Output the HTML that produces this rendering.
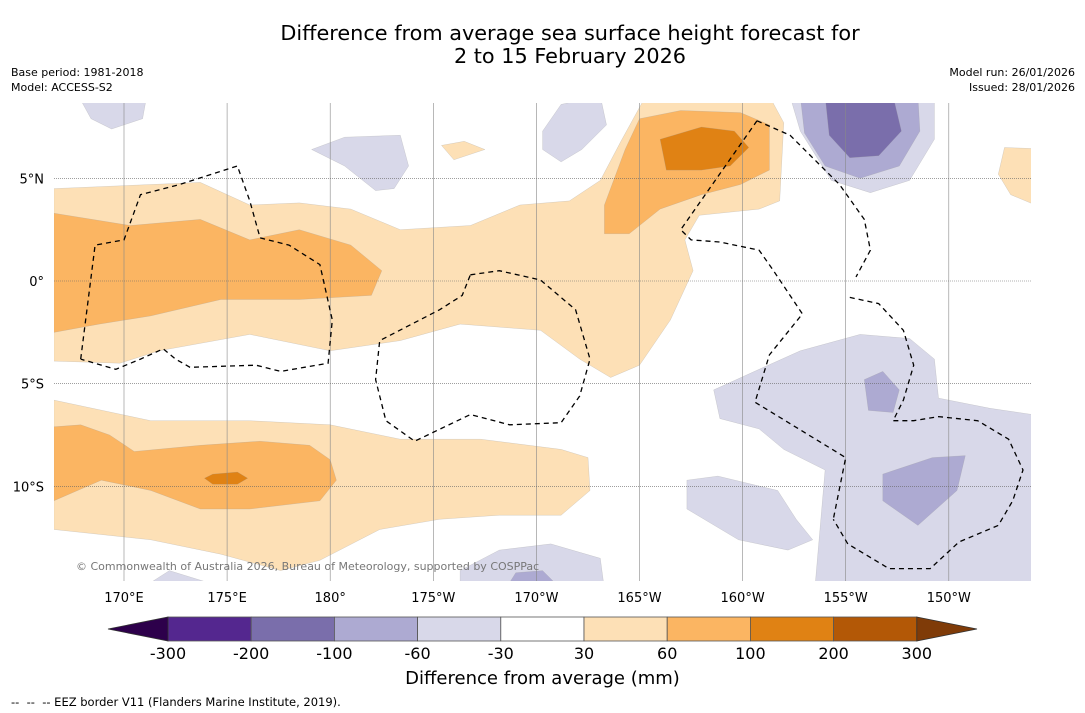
<!DOCTYPE html>
<html><head><meta charset="utf-8">
<style>
body{margin:0;background:#fff;font-family:"DejaVu Sans",sans-serif;}
#wrap{position:relative;width:1085px;height:713px;overflow:hidden;background:#fff;}
.t{position:absolute;white-space:nowrap;color:#000;}
</style></head><body>
<div id="wrap">
<div class="t" style="left:0;width:1140px;text-align:center;top:22px;font-size:20.8px;line-height:23px;">Difference from average sea surface height forecast for<br>2 to 15 February 2026</div>
<div class="t" style="left:11px;top:65px;font-size:11px;line-height:15px;">Base period: 1981-2018<br>Model: ACCESS-S2</div>
<div class="t" style="right:10px;top:65px;font-size:11px;line-height:15px;text-align:right;">Model run: 26/01/2026<br>Issued: 28/01/2026</div>
<svg id="svg" width="1085" height="713" style="position:absolute;left:0;top:0"></svg>
<div class="t" style="left:0;width:1085px;text-align:center;top:668px;font-size:18px;">Difference from average (mm)</div>
<div class="t" style="left:11px;top:695px;font-size:11.5px;">--&nbsp; --&nbsp; -- EEZ border V11 (Flanders Marine Institute, 2019).</div>
</div>
<script>
const lonTicks=[170,175,180,185,190,195,200,205,210];
const lonLabels=["170°E","175°E","180°","175°W","170°W","165°W","160°W","155°W","150°W"];
const latTicks=[5,0,-5,-10];
const latLabels=["5°N","0°","5°S","10°S"];
const levelColors=["#54278f","#7a6eab","#adaad2","#d8d8e9","#ffffff","#fde0b6","#fbb562","#e08214","#b35806"];
const levelTicks=["-300","-200","-100","-60","-30","30","60","100","200","300"];
const regions=[
 [5,[166.6,4.5,173.7,4.8,176.1,3.7,178.5,3.8,181,3.5,183.4,2.5,186.8,2.7,189.2,3.7,191.6,3.9,193.1,4.9,194.1,6.8,195.3,9,201.3,9,202,7.7,201.8,3.9,200.8,3.5,197.9,3.2,197.2,2.0,197.6,0.5,196.5,-1.9,195,-4.1,193.6,-4.7,192.1,-3.8,190.2,-2.4,186.3,-2.1,183.4,-2.9,180,-3.4,176.1,-2.6,171.7,-3.4,169.8,-4.0,166.6,-3.9]],
 [6,[166.6,3.3,170.3,2.7,173.7,3.0,176.1,2.0,178.5,2.5,181,1.75,182.5,0.5,182,-0.7,178.5,-0.9,174.7,-0.9,171.3,-1.7,168.8,-2.1,166.6,-2.5]],
 [6,[193.3,2.3,193.3,3.7,194.3,6.4,195,7.9,197,8.3,199.9,8.2,201.3,7.6,201.3,5.4,199.9,4.7,198,4.2,196,3.5,194.5,2.3]],
 [7,[196,6.9,198,7.5,199.6,7.3,200.3,6.5,199.4,5.6,198,5.4,196.3,5.4]],
 [5,[166.6,-5.8,171.3,-6.8,176.1,-6.8,180,-7.0,183.4,-7.7,187.3,-7.7,191.2,-8.2,192.5,-8.6,192.6,-10.2,191.2,-11.4,188.2,-11.4,185.3,-11.6,182.4,-12.1,179.5,-13.6,177.6,-14.1,174.7,-13.3,171.3,-12.6,166.6,-12.1]],
 [6,[166.6,-7.1,167.9,-7.0,169.3,-7.5,170.5,-8.3,173.7,-8.0,176.6,-7.8,179,-8.0,180,-8.7,180.3,-9.7,179.5,-10.7,176.1,-11.1,173.7,-11.1,171.3,-10.2,168.9,-9.7,166.6,-10.7]],
 [7,[174.3,-9.4,175.5,-9.3,176,-9.6,175.5,-9.9,174.3,-9.9,173.9,-9.6]],
 [3,[167.8,9,171.1,9,170.9,7.9,169.4,7.4,168.4,7.9]],
 [3,[179.1,6.4,180.7,7.0,183.4,7.1,183.8,5.6,183.1,4.5,182.2,4.4,180.7,5.6]],
 [3,[190.3,7.3,191.2,8.6,193.1,9,193.4,7.6,192.2,6.4,191.2,5.8,190.3,6.4]],
 [5,[185.4,6.6,186.5,6.8,187.5,6.4,186,5.9]],
 [3,[202.3,9,209.3,9,209.3,6.9,208.1,4.9,206.2,4.3,204.3,4.9,202.8,7.3]],
 [2,[202.8,9,208.5,9,208.6,7.3,207.6,5.6,205.7,5.0,204,5.6,203,7.2]],
 [1,[204,9,207.3,9,207.7,7.3,206.6,6.1,205.2,6.0,204.2,7.1]],
 [5,[212.7,6.5,215.4,6.4,215.4,3.2,213,4.2,212.4,5.2]],
 [3,[198.6,-5.3,200.8,-4.3,202.8,-3.4,205.7,-2.6,208.1,-2.8,209.3,-3.8,209.5,-5.7,212,-6.2,215.4,-6.7,215.4,-15,203.5,-15,204,-9.2,202,-8.2,200.8,-7.2,198.9,-6.7]],
 [2,[205.9,-4.8,206.8,-4.4,207.6,-5.3,207.3,-6.4,206.1,-6.3]],
 [2,[206.8,-9.4,209.2,-8.6,210.8,-8.5,210.4,-10.2,208.5,-11.9,206.8,-10.7]],
 [3,[197.3,-9.7,198.8,-9.5,201.7,-10.2,202.6,-11.6,203.4,-12.6,202.2,-13.1,199.8,-12.6,197.3,-11.1]],
 [3,[186.3,-14.1,188.2,-13.1,190.7,-12.8,193.1,-13.5,193.3,-15,186.3,-15]],
 [2,[188.5,-15,189,-14.2,190.3,-14.1,191.2,-15]],
 [3,[170.8,-15,172.2,-14.1,175.1,-15]]
];
const eez=[
 [167.9,-3.8,168.6,1.75,170,2.0,170.8,4.2,172.7,4.7,175.5,5.6,176.1,3.9,176.6,2.1,178,1.75,179.5,0.8,180.1,-1.9,179.9,-4.0,177.6,-4.4,176.4,-4.1,173.2,-4.2,172.5,-3.8,171.9,-3.3,170.8,-3.8,169.6,-4.3,167.9,-3.8],
 [186.8,0.3,188.2,0.5,190.2,0.05,191.9,-1.4,192.6,-3.8,192.1,-5.6,191.2,-6.9,188.7,-7.0,186.8,-6.5,184.1,-7.8,182.7,-6.8,182.2,-4.8,182.4,-2.9,185.3,-1.4,186.4,-0.7,186.8,0.3],
 [200.7,7.8,202.3,7.1,204.7,4.7,205.9,3.0,206.2,1.5,205.5,0.2],
 [200.7,7.8,197,2.5,197.5,2.0,198.9,1.9,200.8,1.5,201.5,0.5,202.9,-1.6,201.3,-3.6,200.6,-5.9,205,-8.6,204.4,-11.6],
 [205.2,-0.8,206.6,-1.1,207.8,-2.4,208.3,-4.1,207.8,-5.8,207.3,-6.8,208.3,-6.8,209.5,-6.6,211.4,-6.8,212.9,-7.7,213.6,-9.2,213.1,-10.7,212.4,-11.9,210.5,-12.7,209.1,-14.0,207.1,-14.0,205.1,-12.8,204.4,-11.6]
];
const NS="http://www.w3.org/2000/svg";
const svg=document.getElementById('svg');
const X=lon=>124+(lon-170)*20.62;
const Y=lat=>281-lat*20.54;
const L=54,R=1031,T=103,B=581;
const FF="DejaVu Sans, sans-serif";
function el(t,a,p){const e=document.createElementNS(NS,t);for(const k in a)e.setAttribute(k,a[k]);(p||svg).appendChild(e);return e;}
const defs=el('defs',{});
const cp=el('clipPath',{id:'mc'},defs);el('rect',{x:L,y:T,width:R-L,height:B-T},cp);
const g=el('g',{'clip-path':'url(#mc)'});


function pts(a){let s=[];for(let i=0;i<a.length;i+=2)s.push(X(a[i]).toFixed(1)+','+Y(a[i+1]).toFixed(1));return s.join(' ');}
regions.forEach(r=>{
 const p=el('polygon',{points:pts(r[1]),fill:levelColors[r[0]],stroke:'#999',"stroke-width":0.4,"stroke-opacity":0.5},g);
 
 
});
lonTicks.forEach((lo,i)=>{
 const l=el('line',{x1:X(lo),x2:X(lo),y1:T,y2:B,stroke:'#888',"stroke-width":0.6},g);
 
 
 const t=el('text',{x:X(lo),y:602,"font-size":13,"text-anchor":"middle","font-family":FF});
 t.textContent=lonLabels[i];
 
 
});
latTicks.forEach((la,i)=>{
 const l=el('line',{x1:L,x2:R,y1:Y(la),y2:Y(la),stroke:'#666',"stroke-width":0.6,"stroke-dasharray":"1,1"},g);
 
 
 const t=el('text',{x:44,y:Y(la)+5,"font-size":13,"text-anchor":"end","font-family":FF});
 t.textContent=latLabels[i];
 
 
});
eez.forEach(a=>{
 const p=el('polyline',{points:pts(a),fill:'none',stroke:'#000',"stroke-width":1.3,"stroke-dasharray":"5,4"},g);
 
 
});
const wm=el('text',{x:76,y:570,"font-size":11,fill:'#777',"font-family":FF},g);
wm.textContent="© Commonwealth of Australia 2026, Bureau of Meteorology, supported by COSPPac";


const cbL=168,cbW=83.2,cbT=617,cbH=24;
levelColors.forEach((c,i)=>{
 const r=el('rect',{x:cbL+i*cbW,y:cbT,width:cbW,height:cbH,fill:c,stroke:'#555',"stroke-width":0.8});
 
 
});
const lt=el('polygon',{points:`108,${cbT+cbH/2} ${cbL},${cbT} ${cbL},${cbT+cbH}`,fill:'#2d004b',stroke:'#333',"stroke-width":0.8});


const rEnd=cbL+levelColors.length*cbW;
const rt=el('polygon',{points:`${rEnd},${cbT} 977,${cbT+cbH/2} ${rEnd},${cbT+cbH}`,fill:'#7f3b08',stroke:'#333',"stroke-width":0.8});


levelTicks.forEach((s,i)=>{
 const t=el('text',{x:cbL+i*cbW,y:659,"font-size":16,"text-anchor":"middle","font-family":FF});
 t.textContent=s;
 
 
});
</script>
</body></html>
